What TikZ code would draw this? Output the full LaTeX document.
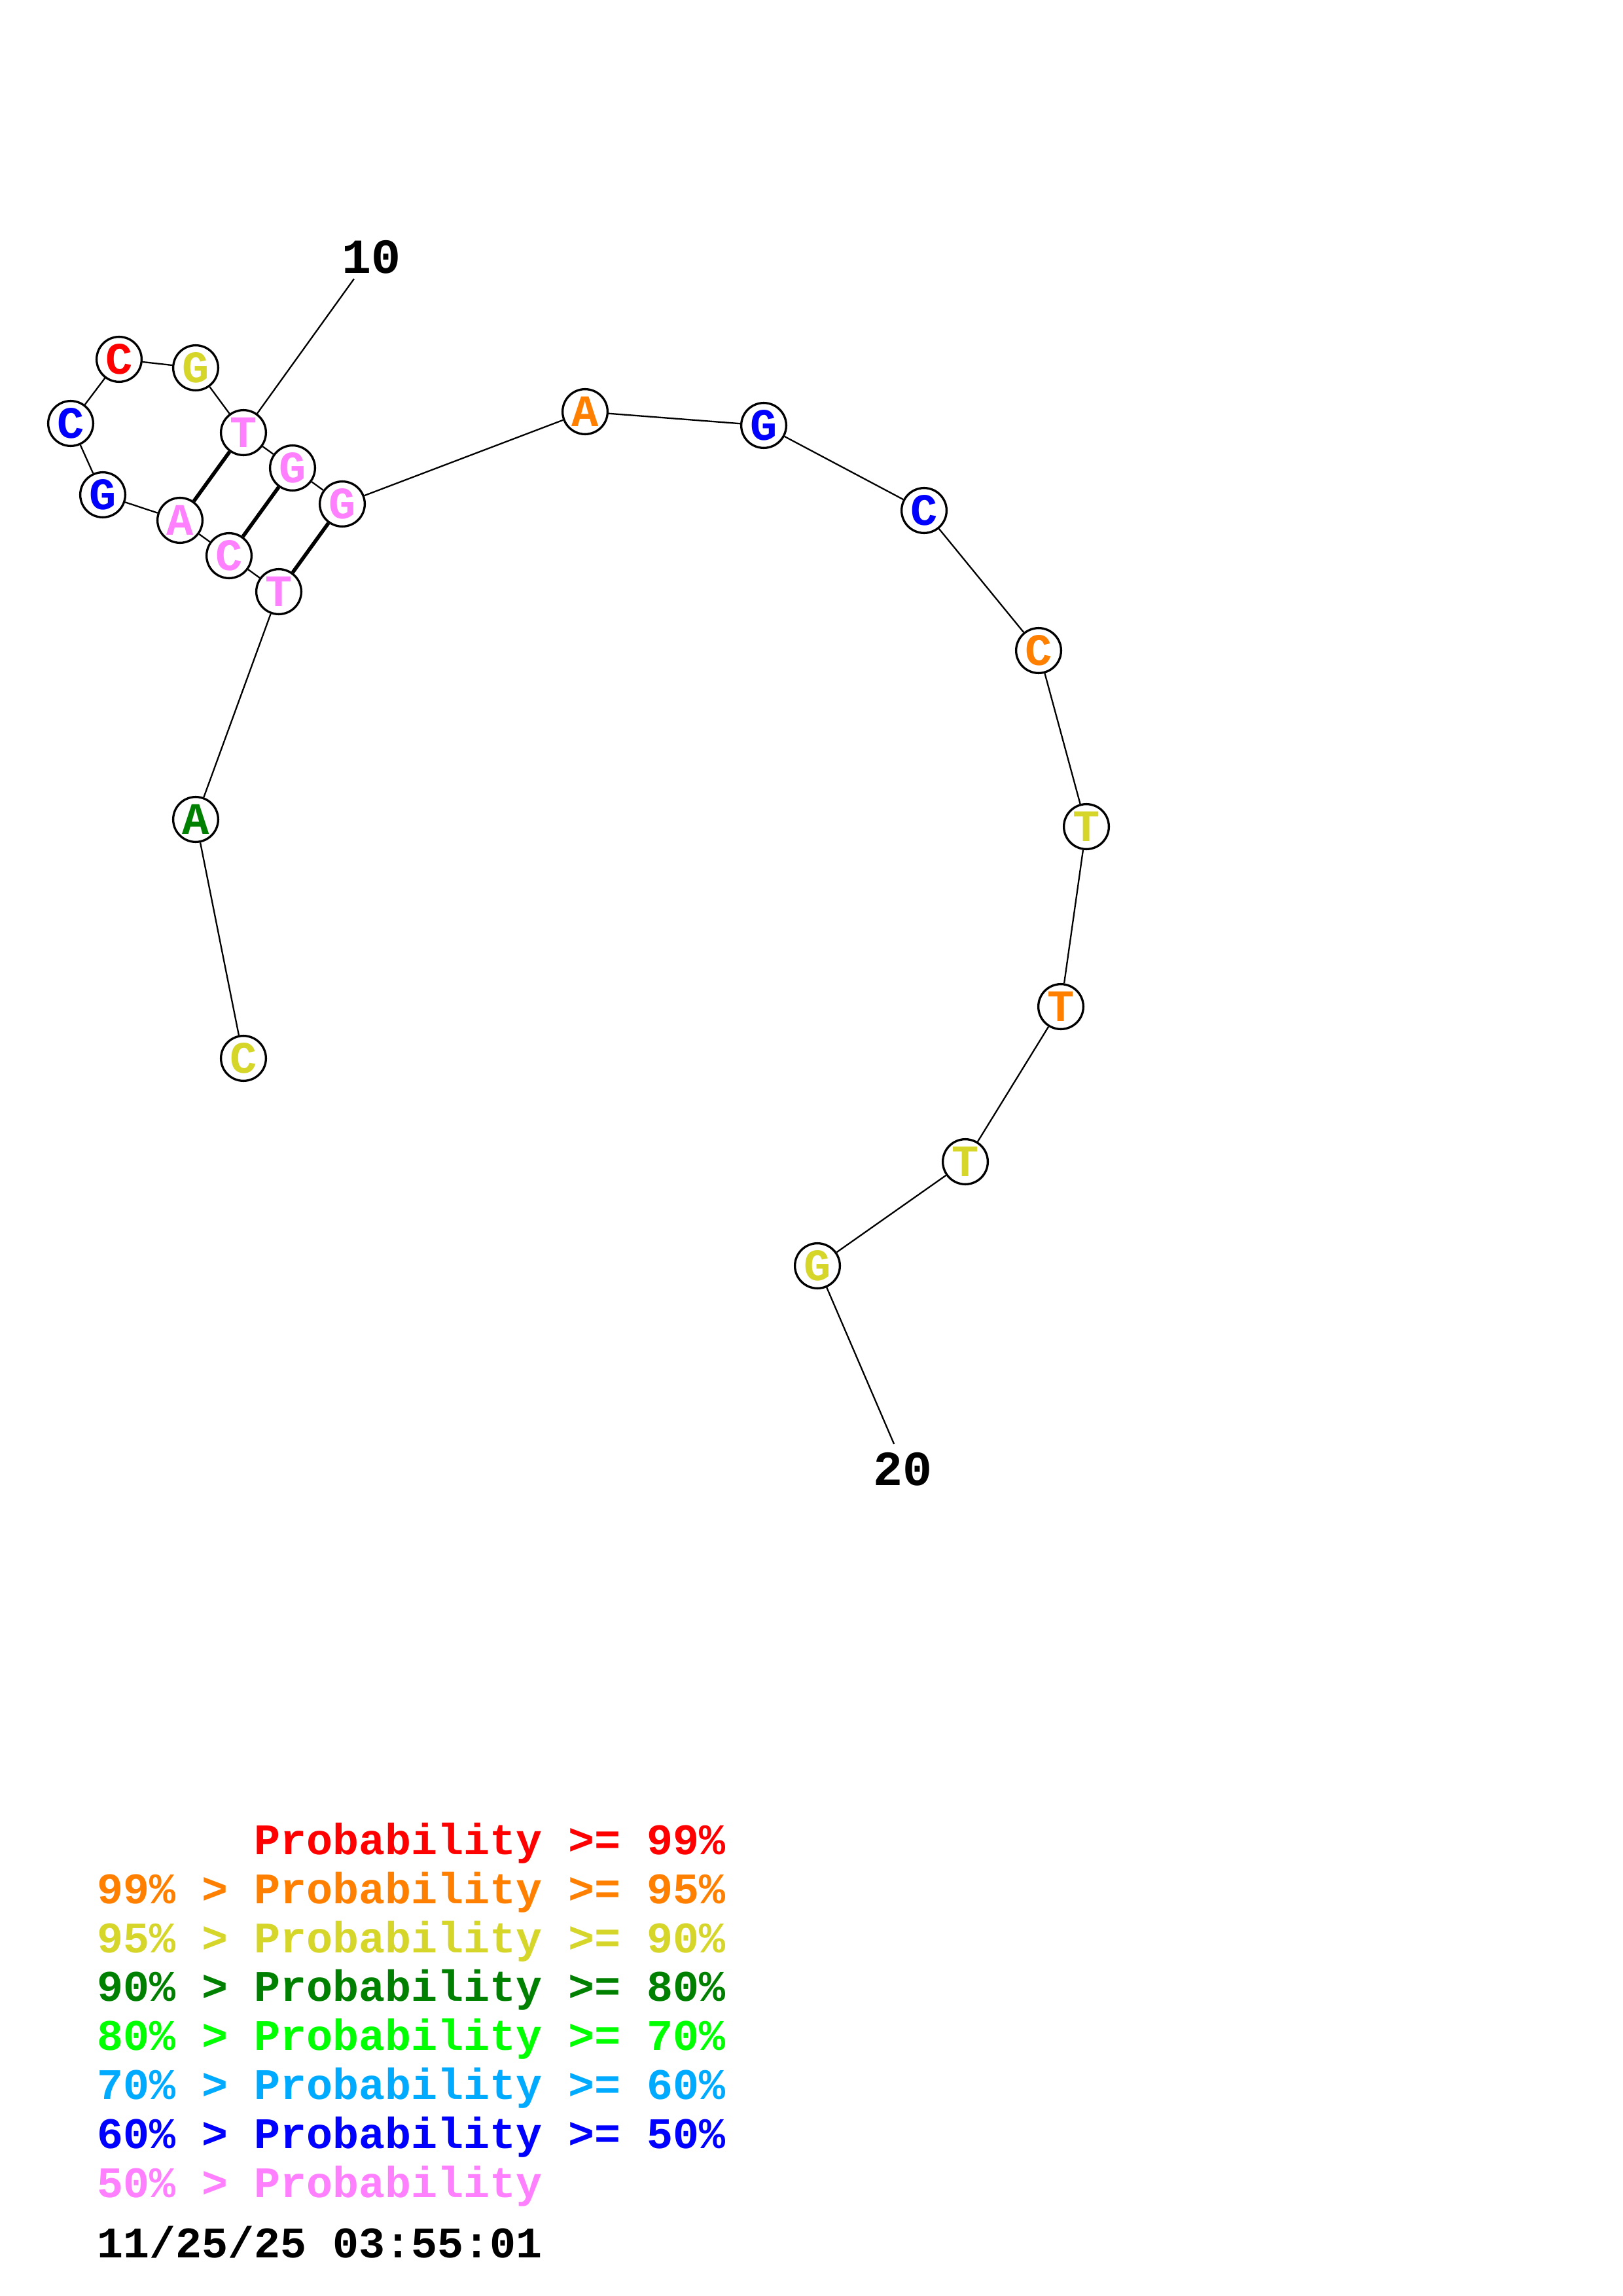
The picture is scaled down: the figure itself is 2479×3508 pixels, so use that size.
\documentclass[tikz,border=0pt]{standalone}
\usepackage{fontspec}
\setmonofont{Liberation Mono}
\definecolor{cRed}{RGB}{255,0,0}
\definecolor{cOrange}{RGB}{255,128,0}
\definecolor{cYellow}{RGB}{213,213,42}
\definecolor{cDGreen}{RGB}{0,128,0}
\definecolor{cGreen}{RGB}{0,255,0}
\definecolor{cLBlue}{RGB}{0,170,255}
\definecolor{cBlue}{RGB}{0,0,255}
\definecolor{cPink}{RGB}{255,128,255}
\begin{document}
\begin{tikzpicture}[x=0.24pt,y=-0.24pt,
  nt/.style={circle,draw=black,line width=0.8pt,fill=white,minimum size=16.5pt,inner sep=0pt,
    font=\ttfamily\bfseries\fontsize{16.5}{16.5}\selectfont},
  bb/.style={line width=0.55pt},
  pr/.style={line width=1.35pt},
  lg/.style={anchor=base west,inner sep=0pt,font=\ttfamily\bfseries\fontsize{16}{16}\selectfont},
  num/.style={inner sep=0pt,font=\ttfamily\bfseries\fontsize{18}{18}\selectfont}]
\useasboundingbox (0,0) rectangle (2479,3508);

% nucleotides
\node[nt,text=cYellow] (n1) at (372,1617) {C};
\node[nt,text=cDGreen] (n2) at (299,1252) {A};
\node[nt,text=cPink]   (n3) at (426,904) {T};
\node[nt,text=cPink]   (n4) at (350,849) {C};
\node[nt,text=cPink]   (n5) at (275,795) {A};
\node[nt,text=cBlue]   (n6) at (157,756) {G};
\node[nt,text=cBlue]   (n7) at (108,647) {C};
\node[nt,text=cRed]    (n8) at (182,549) {C};
\node[nt,text=cYellow] (n9) at (299,562) {G};
\node[nt,text=cPink]   (n10) at (372,661) {T};
\node[nt,text=cPink]   (n11) at (447,715) {G};
\node[nt,text=cPink]   (n12) at (523,770) {G};
\node[nt,text=cOrange] (n13) at (894,629) {A};
\node[nt,text=cBlue]   (n14) at (1167,650) {G};
\node[nt,text=cBlue]   (n15) at (1412,780) {C};
\node[nt,text=cOrange] (n16) at (1587,994) {C};
\node[nt,text=cYellow] (n17) at (1660,1263) {T};
\node[nt,text=cOrange] (n18) at (1621,1538) {T};
\node[nt,text=cYellow] (n19) at (1475,1775) {T};
\node[nt,text=cYellow] (n20) at (1249,1934) {G};

% position labels
\node[num] (l10) at (567,393) {10};
\node[num] (l20) at (1379,2245) {20};
\coordinate (e10) at (541,426);
\coordinate (e20) at (1366,2206);

% backbone
\draw[bb] (n1)--(n2) (n2)--(n3) (n3)--(n4) (n4)--(n5) (n5)--(n6) (n6)--(n7)
  (n7)--(n8) (n8)--(n9) (n9)--(n10) (n10)--(n11) (n11)--(n12) (n12)--(n13)
  (n13)--(n14) (n14)--(n15) (n15)--(n16) (n16)--(n17) (n17)--(n18) (n18)--(n19)
  (n19)--(n20);
\draw[bb] (e10)--(n10);
\draw[bb] (n20)--(e20);

% pairs
\draw[pr] (n10)--(n5);
\draw[pr] (n11)--(n4);
\draw[pr] (n12)--(n3);

% legend
\node[lg,text=cRed]    (g1) at (148,2833) {\phantom{99\% > }Probability >= 99\%};
\node[lg,text=cOrange] (g2) at (148,2908) {99\% > Probability >= 95\%};
\node[lg,text=cYellow] (g3) at (148,2983) {95\% > Probability >= 90\%};
\node[lg,text=cDGreen] (g4) at (148,3057) {90\% > Probability >= 80\%};
\node[lg,text=cGreen]  (g5) at (148,3132) {80\% > Probability >= 70\%};
\node[lg,text=cLBlue]  (g6) at (148,3207) {70\% > Probability >= 60\%};
\node[lg,text=cBlue]   (g7) at (148,3282) {60\% > Probability >= 50\%};
\node[lg,text=cPink]   (g8) at (148,3357) {50\% > Probability};
\node[lg,text=black]   (g9) at (148,3449) {11/25/25 03:55:01};
\end{tikzpicture}
\end{document}
